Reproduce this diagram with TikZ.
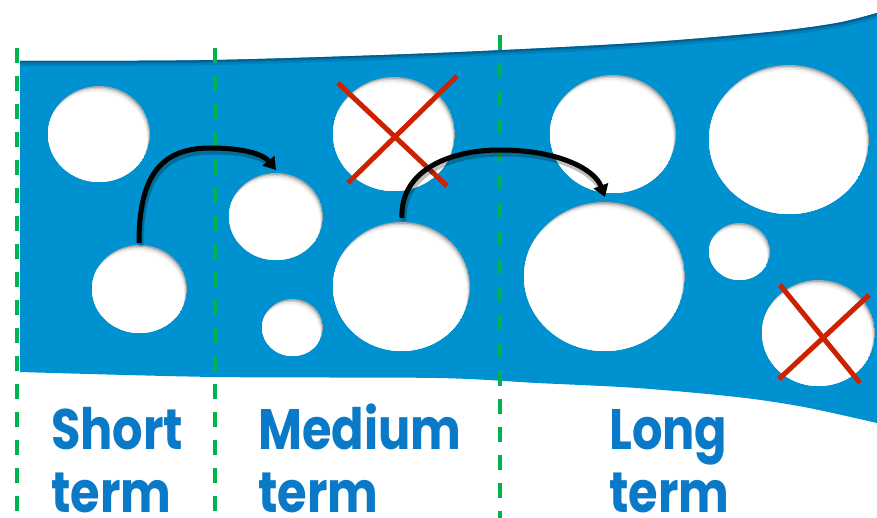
\documentclass[tikz,border=0pt]{standalone}
\usepackage{fontspec}
\setmainfont{Poppins}
\newfontfamily\lblfont{Poppins}[FakeStretch=0.84]
\usetikzlibrary{arrows.meta}
\definecolor{bandblue}{RGB}{0,146,208}
\definecolor{banddark}{RGB}{0,80,125}
\definecolor{txtblue}{RGB}{10,122,200}
\definecolor{dashgreen}{RGB}{0,178,80}
\definecolor{crossred}{RGB}{204,34,0}
\newcommand\mkhole[4]{%
  \begin{scope}
    \clip (#1,#2) ellipse [x radius=#3, y radius=#4];
    \fill[black!35] (#1,#2) ellipse [x radius=#3, y radius=#4];
    \fill[black!18] (#1-1,#2+1.5) ellipse [x radius=#3, y radius=#4];
    \fill[black!8] (#1-1.8,#2+3) ellipse [x radius=#3, y radius=#4];
    \fill[black!3] (#1-2.5,#2+4.5) ellipse [x radius=#3, y radius=#4];
    \fill[white] (#1-3,#2+6) ellipse [x radius=#3, y radius=#4];
  \end{scope}}
\tikzset{
  guide/.style={dashgreen, line width=3.5pt, dash pattern=on 15pt off 13pt},
  crossline/.style={crossred, line width=5pt},
  moveto/.style={line width=5pt, black, -{Triangle[length=12pt,width=15pt]}},
  moveshadow/.style={line width=5pt, black, opacity=0.25},
  label/.style={txtblue, font=\fontsize{57}{63}\lblfont\bfseries, align=left, inner sep=0pt, anchor=base west}
}
\begin{document}
\begin{tikzpicture}[x=1pt,y=-1pt]
\useasboundingbox (0,0) rectangle (877,518);
\fill[white] (0,0) rectangle (877,518);
% band
\def\bandpath{plot[smooth] coordinates {(20,61) (215,60) (437,53) (637,43) (770,32) (837,23) (877,13)} -- plot[smooth] coordinates {(877,423) (804,407) (737,397) (637,388) (537,383) (437,378) (215,377) (20,372)} -- cycle}
\fill[bandblue] \bandpath;
\begin{scope}
  \clip \bandpath;
  \draw[banddark, line width=10pt, opacity=0.25] plot[smooth] coordinates {(20,61) (215,60) (437,53) (637,43) (770,32) (837,23) (877,13)};
  \draw[banddark, line width=5pt, opacity=0.45] plot[smooth] coordinates {(20,61) (215,60) (437,53) (637,43) (770,32) (837,23) (877,13)};
  \draw[banddark, line width=2pt, opacity=0.6] plot[smooth] coordinates {(20,61) (215,60) (437,53) (637,43) (770,32) (837,23) (877,13)};
\end{scope}
% holes
\mkhole{99}{134}{51}{48}
\mkhole{139.5}{289}{47.5}{44}
\mkhole{276}{216.5}{47}{43.5}
\mkhole{292.5}{327.5}{30.5}{28.5}
\mkhole{394}{134}{61}{57}
\mkhole{401.5}{286.5}{68.5}{64.5}
\mkhole{613}{134}{63}{59}
\mkhole{789}{139.5}{80}{74.5}
\mkhole{604.5}{276.5}{80.5}{74.5}
\mkhole{739.5}{251.5}{30.5}{28.5}
\mkhole{818.5}{333}{56.5}{53}
% guides
\coordinate (g1t) at (17,48);  \coordinate (g1b) at (17,518);
\coordinate (g2t) at (215,48); \coordinate (g2b) at (215,518);
\coordinate (g3t) at (500,35); \coordinate (g3b) at (500,518);
\draw[guide] (g1t) -- (g1b);
\draw[guide] (g2t) -- (g2b);
\draw[guide] (g3t) -- (g3b);
% crosses
\coordinate (x1a) at (338,83);  \coordinate (x1b) at (447,186);
\coordinate (x1c) at (348,183); \coordinate (x1d) at (457,76);
\coordinate (x2a) at (780,285); \coordinate (x2b) at (860,383);
\coordinate (x2c) at (779,379); \coordinate (x2d) at (869,295);
\draw[crossline] (x1a) -- (x1b);
\draw[crossline] (x1c) -- (x1d);
\draw[crossline] (x2a) -- (x2b);
\draw[crossline] (x2c) -- (x2d);
% arrows
\coordinate (a1s) at (139,243); \coordinate (a1e) at (276,170);
\coordinate (a2s) at (402,218); \coordinate (a2e) at (605,197);
\draw[moveshadow] (141,246) .. controls (141,183) and (160,152) .. (212,152) .. controls (245,152) and (265,158) .. (274,167);
\draw[moveto] (a1s) .. controls (139,180) and (158,148) .. (210,148) .. controls (243,148) and (263,154) .. (a1e);
\draw[moveshadow] (404,221) .. controls (402,173) and (452,154) .. (502,154) .. controls (562,154) and (592,172) .. (603,192);
\draw[moveto] (a2s) .. controls (400,170) and (450,150) .. (500,150) .. controls (560,150) and (595,170) .. (a2e);
% labels
\node[label] (short) at (51,512) {Short\\term};
\node[label] (medium) at (258,512) {Medium\\term};
\node[label] (long) at (609,512) {Long\\term};
\end{tikzpicture}
\end{document}
